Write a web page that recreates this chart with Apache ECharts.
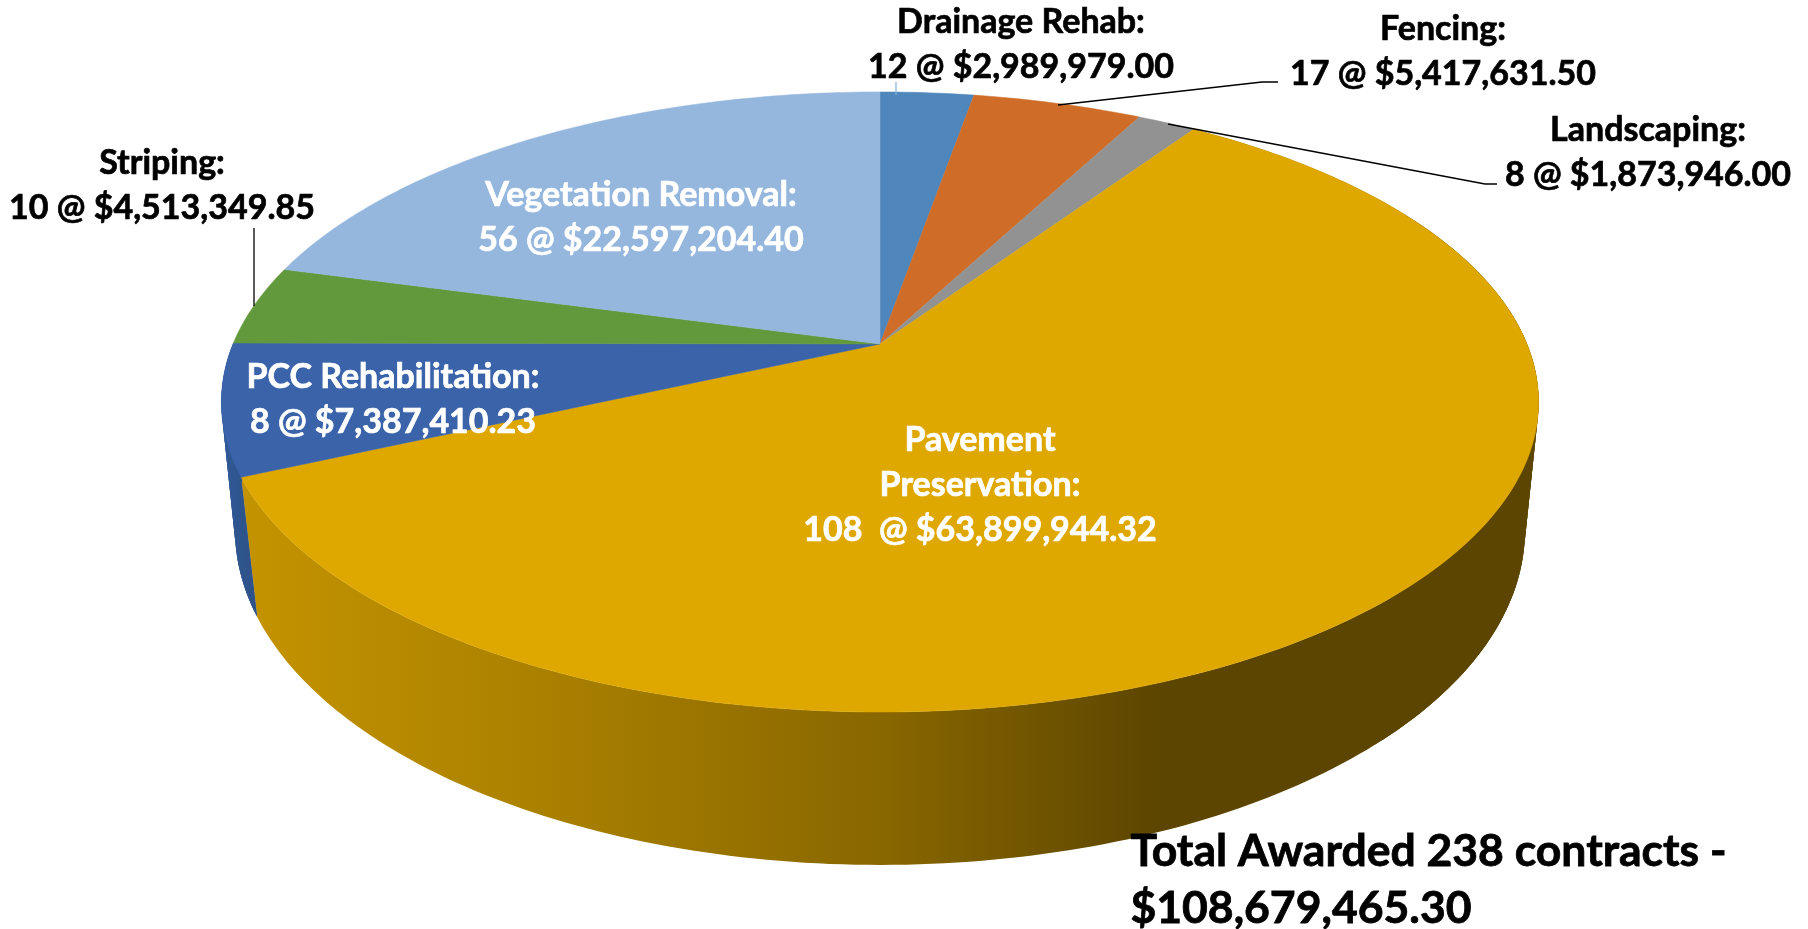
<!DOCTYPE html>
<html><head><meta charset="utf-8">
<style>html,body{margin:0;padding:0;background:#fff}#c{width:1808px;height:929px}</style>
<script src="https://cdn.jsdelivr.net/npm/echarts@6/dist/echarts.min.js"></script>
</head><body><div id="c"></div>
<script>
// Data
const categories = ['Drainage Rehab','Fencing','Landscaping','Pavement Preservation','PCC Rehabilitation','Striping','Vegetation Removal'];
const contracts = [12,17,8,108,8,10,56];
const awarded = [2989979.00,5417631.50,1873946.00,63899944.32,7387410.23,4513349.85,22597204.40];
const labelTexts = [
  'Drainage Rehab:\n12 @ $2,989,979.00',
  'Fencing:\n17 @ $5,417,631.50',
  'Landscaping:\n8 @ $1,873,946.00',
  'Pavement\nPreservation:\n108  @ $63,899,944.32',
  'PCC Rehabilitation:\n8 @ $7,387,410.23',
  'Striping:\n10 @ $4,513,349.85',
  'Vegetation Removal:\n56 @ $22,597,204.40'
];
const totalText = 'Total Awarded 238 contracts -\n$108,679,465.30';
// Styles
const faceColors = ['#4F86BB','#CE6C28','#929292','#DFA800','#3B63AA','#63993D','#95B6DD'];
const labelColors = ['#000','#000','#000','#fff','#fff','#000','#fff'];
const labelPos = [[1021,45],[1443,52],[1648,153],[980,485],[393,400],[162,186],[641,218]];
const leaders = [
  {color:'#8DB4DE',pts:[[896,82],[896,95]]},
  {color:'#000',pts:[[1058,105],[1262,82],[1278,82]]},
  {color:'#000',pts:[[1168,124],[1485,184],[1497,184]]},
  null,null,
  {color:'#000',pts:[[254,228],[254,306]]},
  null
];
const FONT = 'Lato, "Open Sans", sans-serif';
// Perspective model of the top and bottom discs
const top3d = {cx:880,cy:344,f:647,a:299.2,s:0.187};
const bot3d = {cx:880,cy:473,f:635.6,a:325.3,s:0.17};
function project(d,theta){
  const u=Math.sin(theta),v=Math.cos(theta),w=1+d.s*v;
  return [d.cx+d.f*u/w,d.cy-d.a*v/w];
}
const total = awarded.reduce((a,b)=>a+b,0);
const starts = []; awarded.reduce((acc,v,i)=>{starts[i]=acc;return acc+v;},0);
function rim(d,i){
  const a0=starts[i]/total*2*Math.PI,a1=(starts[i]+awarded[i])/total*2*Math.PI;
  const n=Math.max(8,Math.ceil((a1-a0)*60)),p=[];
  for(let k=0;k<=n;k++)p.push(project(d,a0+(a1-a0)*k/n));
  return p;
}
function wallFill(i){
  if(i===4)return {type:'linear',global:true,x:220,y:0,x2:260,y2:0,colorStops:[{offset:0,color:'#2F5A98'},{offset:1,color:'#2F5084'}]};
  return {type:'linear',global:true,x:241,y:0,x2:1160,y2:0,colorStops:[
    {offset:0,color:'#C49300'},{offset:.3,color:'#AC8200'},{offset:.69,color:'#8A6800'},{offset:1,color:'#5C4500'}]};
}
function renderSlice(params,api){
  const i=params.dataIndex;
  const topRim=rim(top3d,i),botRim=rim(bot3d,i);
  const children=[];
  if(i===3||i===4){
    const fill=wallFill(i);
    // the wall band, then the sweep that closes the gap at the silhouette tangent
    children.push({type:'polygon',z2:1,shape:{points:topRim.concat(botRim.slice().reverse())},style:{fill:fill}});
    for(let k=0;k<topRim.length-2;k++){
      if(i===3&&topRim[k][0]<1400)continue;
      children.push({type:'polygon',z2:1,shape:{points:[topRim[k],topRim[k+2],botRim[k+2],botRim[k]]},style:{fill:fill}});
    }
  }
  children.push(
    {type:'polygon',z2:2,shape:{points:[[top3d.cx,top3d.cy]].concat(topRim)},
     style:{fill:faceColors[i],stroke:faceColors[i],lineWidth:.5}},
    {type:'text',z2:4,x:labelPos[i][0],y:labelPos[i][1],
     style:{text:labelTexts[i],fill:labelColors[i],stroke:labelColors[i],lineWidth:.7,
            font:'bold 34px '+FONT,lineHeight:45,align:'center',verticalAlign:'middle'}}
  );
  if(leaders[i])children.push({type:'polyline',z2:3,shape:{points:leaders[i].pts},
     style:{stroke:leaders[i].color,lineWidth:1.3,fill:null}});
  return {type:'group',children};
}
const chart=echarts.init(document.getElementById('c'));
chart.setOption({
  animation:false,backgroundColor:'#fff',
  series:[{type:'custom',coordinateSystem:'none',renderItem:renderSlice,silent:true,
    data:categories.map((n,i)=>({name:n,value:[awarded[i],contracts[i]]}))}],
  graphic:[{type:'text',left:1130,top:823,z:10,
    style:{text:totalText,fill:'#000',stroke:'#000',lineWidth:.8,font:'bold 44.5px '+FONT,lineHeight:57}}]
});
</script></body></html>
